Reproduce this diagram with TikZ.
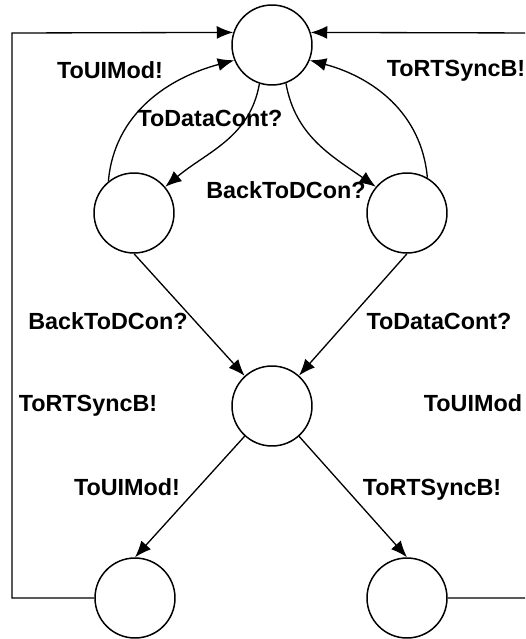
\documentclass[tikz,border=0pt]{standalone}
\usepackage{fontspec}
\setmainfont{Liberation Sans}
\usetikzlibrary{arrows.meta}
\tikzset{
  >={Latex[length=3.3mm,width=2.6mm]},
  state/.style = {circle, draw, line width=0.85pt, minimum size=16mm, inner sep=0},
  trans/.style = {line width=0.75pt},
  lbl/.style = {font=\bfseries\fontsize{13.3}{16}\selectfont, inner sep=0,
                text height=0.72em, text depth=0pt},
}
\begin{document}
\begin{tikzpicture}[x=0.02cm,y=-0.02cm]
\useasboundingbox (0,0) rectangle (525,639);
\clip (0,0) rectangle (525,639);
% states
\node[state] (T) at (272,45) {};
\node[state] (L) at (134,213) {};
\node[state] (R) at (407,213) {};
\node[state] (M) at (272,406) {};
\node[state] (BL) at (135,598) {};
\node[state] (BR) at (407,598) {};
\coordinate (lcorner) at (12,33);
\coordinate (rcorner) at (540,33);
% transitions
\path[trans,->] (L.129) edge[out=85,in=195] (T.202)
                (T.252) edge[out=-100,in=40] (L.40)
                (T.290) edge[out=-80,in=145] (R.140)
                (R.60) edge[out=95,in=-15] (T.338)
                (L.south) edge (M)
                (R.south) edge (M)
                (M) edge (BL.north)
                (M) edge (BR.north);
\draw[trans,->] (BL.west) -| (lcorner) -- (T.162);
\draw[trans,->] (BR.east) -| (rcorner) -- (T.18);
% labels
\node[lbl] (uimodA) at (110,72) {ToUIMod!};
\node[lbl] (rtsyncA) at (456,70) {ToRTSyncB!};
\node[lbl] (datacontA) at (210,120) {ToDataCont?};
\node[lbl] (backA) at (286,192) {BackToDCon?};
\node[lbl] (backB) at (108,323) {BackToDCon?};
\node[lbl] (datacontB) at (439,323) {ToDataCont?};
\node[lbl] (rtsyncB) at (88,405) {ToRTSyncB!};
\node[lbl] (uimodB) at (473,405) {ToUIMod};
\node[lbl] (uimodC) at (127,489) {ToUIMod!};
\node[lbl] (rtsyncC) at (432,489) {ToRTSyncB!};
\end{tikzpicture}
\end{document}
